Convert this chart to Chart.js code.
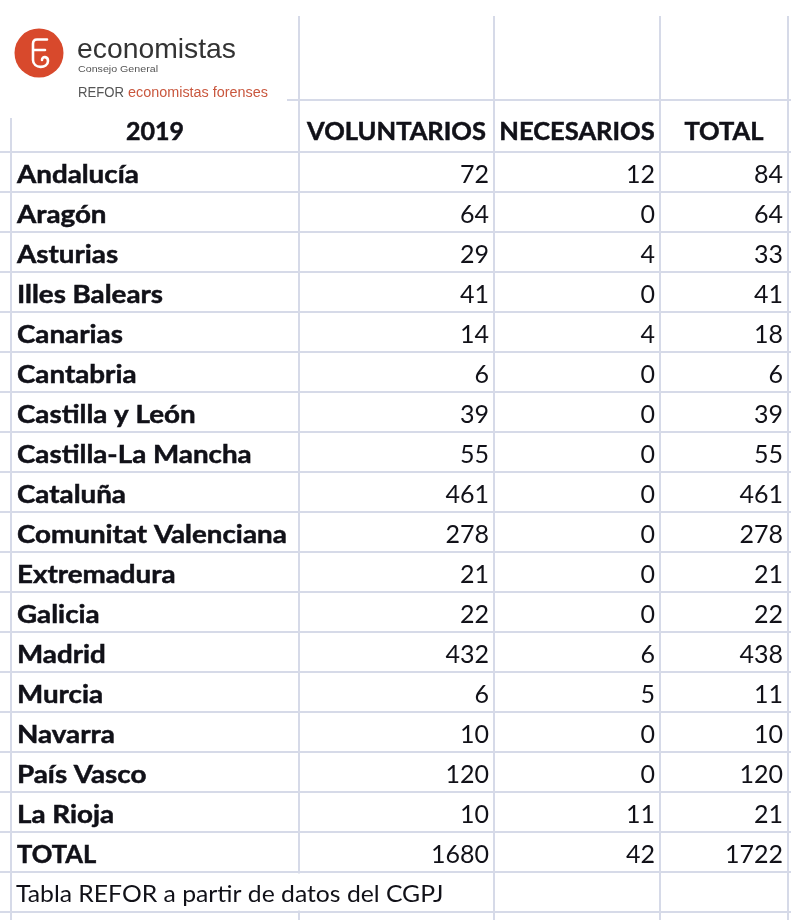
<!DOCTYPE html>
<html lang="es">
<head>
<meta charset="utf-8">
<title>Concursos 2019 - REFOR</title>
<script src="https://cdn.jsdelivr.net/npm/chart.js@4.4.1/dist/chart.umd.min.js"></script>
<style>
  html, body { margin: 0; padding: 0; background: #fff; }
  #wrap { width: 791px; height: 920px; }
</style>
</head>
<body>
<div id="wrap"><canvas id="tabla" width="791" height="920"></canvas></div>
<script>
// Datos de la tabla
const yearLabel = '2019';
const columnLabels = ['VOLUNTARIOS', 'NECESARIOS', 'TOTAL'];
const regions = ['Andalucía', 'Aragón', 'Asturias', 'Illes Balears', 'Canarias', 'Cantabria',
    'Castilla y León', 'Castilla-La Mancha', 'Cataluña', 'Comunitat Valenciana', 'Extremadura',
    'Galicia', 'Madrid', 'Murcia', 'Navarra', 'País Vasco', 'La Rioja'];
const voluntarios = [72, 64, 29, 41, 14, 6, 39, 55, 461, 278, 21, 22, 432, 6, 10, 120, 10];
const necesarios = [12, 0, 4, 0, 4, 0, 0, 0, 0, 0, 0, 0, 6, 5, 0, 0, 11];
const totales = [84, 64, 33, 41, 18, 6, 39, 55, 461, 278, 21, 22, 438, 11, 10, 120, 21];
const totalLabel = 'TOTAL';
const totalRow = [1680, 42, 1722];
const sourceNote = 'Tabla REFOR a partir de datos del CGPJ';

// Maquetacion de la hoja
const colLeft = 11;
const colWidths = [288, 195, 166, 128];
const tableTop = 16;
const topRowHeights = [45, 39, 52];   // dos filas del logo + cabecera
const bodyRowHeight = 40;
const gridColor = '#d6dae8';
const textColor = '#111118';
const fontFamily = 'Lato, "Open Sans", sans-serif';

const colEdges = [colLeft];
colWidths.forEach(w => colEdges.push(colEdges[colEdges.length - 1] + w));

const rowEdges = [tableTop];
topRowHeights.forEach(h => rowEdges.push(rowEdges[rowEdges.length - 1] + h));
// filas de comunidades + TOTAL + nota + una fila mas (cortada)
for (let i = 0; i < regions.length + 3; i++) {
    rowEdges.push(rowEdges[rowEdges.length - 1] + bodyRowHeight);
}

// Texto con ancho ajustado (para el logo)
function fitText(ctx, text, x, y, width) {
    const w = ctx.measureText(text).width;
    ctx.save();
    ctx.translate(x, y);
    ctx.scale(width / w, 1);
    ctx.fillText(text, 0, 0);
    ctx.restore();
}

// Texto estirado en horizontal (la letra Calibri del original es mas ancha)
function stretchText(ctx, text, x, y, sx, bold) {
    ctx.save();
    ctx.translate(x, y);
    ctx.scale(sx, 1);
    ctx.fillText(text, 0, 0);
    if (bold) {
        ctx.lineWidth = 0.5;
        ctx.strokeStyle = ctx.fillStyle;
        ctx.strokeText(text, 0, 0);
    }
    ctx.restore();
}

function drawLogo(ctx) {
    // tapa la cuadricula bajo la imagen
    ctx.fillStyle = '#fff';
    ctx.fillRect(0, 0, 287, 118);

    ctx.fillStyle = '#d8492c';
    ctx.beginPath();
    ctx.arc(39, 53, 24.5, 0, Math.PI * 2);
    ctx.fill();

    ctx.strokeStyle = '#fff';
    ctx.lineWidth = 2.6;
    ctx.lineCap = 'round';
    ctx.beginPath();
    ctx.moveTo(47, 39.5);
    ctx.lineTo(37, 39.5);
    ctx.quadraticCurveTo(33, 39.5, 33, 44);
    ctx.lineTo(33, 60);
    ctx.bezierCurveTo(33, 69, 48, 69, 48, 61);
    ctx.bezierCurveTo(48, 56, 42, 56, 42, 60);
    ctx.moveTo(33, 50);
    ctx.lineTo(45, 50);
    ctx.stroke();

    ctx.textAlign = 'left';
    ctx.textBaseline = 'alphabetic';
    ctx.fillStyle = '#333';
    ctx.font = '28px "Liberation Sans", Arial, sans-serif';
    fitText(ctx, 'economistas', 77, 58, 159);
    ctx.fillStyle = '#555';
    ctx.font = '9px "Liberation Sans", Arial, sans-serif';
    fitText(ctx, 'Consejo General', 78, 72, 80);
    ctx.font = '14px "Liberation Sans", Arial, sans-serif';
    ctx.fillStyle = '#555';
    fitText(ctx, 'REFOR', 78, 97, 46);
    ctx.fillStyle = '#c9573e';
    fitText(ctx, 'economistas forenses', 128, 97, 140);
}

const tablePlugin = {
    id: 'tablaRefor',
    afterDraw(chart) {
        const ctx = chart.ctx;
        const x = chart.scales.x;
        const y = chart.scales.y;
        const px = v => x.getPixelForValue(v);
        const py = v => y.getPixelForValue(v);

        ctx.save();
        drawLogo(ctx);

        const headerRow = 2;
        const firstBody = 3;
        const totalIdx = firstBody + regions.length;
        const noteIdx = totalIdx + 1;

        // la nota desborda la primera celda y tapa la linea vertical
        ctx.fillStyle = '#fff';
        ctx.fillRect(px(colEdges[1]) - 2, py(rowEdges[noteIdx]) + 1.5, 4, bodyRowHeight - 3);

        ctx.fillStyle = textColor;
        ctx.textBaseline = 'alphabetic';

        // cabecera
        ctx.font = 'bold 25px ' + fontFamily;
        ctx.textAlign = 'center';
        const headBase = py(rowEdges[headerRow + 1]) - 12;
        stretchText(ctx, yearLabel, (px(colEdges[0]) + px(colEdges[1])) / 2, headBase, 1, true);
        columnLabels.forEach((lab, i) => {
            stretchText(ctx, lab, (px(colEdges[i + 1]) + px(colEdges[i + 2])) / 2, headBase, 1.02, true);
        });

        const drawRow = (rowIdx, label, values) => {
            const base = py(rowEdges[rowIdx + 1]) - 9;
            ctx.font = 'bold 25px ' + fontFamily;
            ctx.textAlign = 'left';
            const sx = label === label.toUpperCase() ? 1.02 : 1.11;
            stretchText(ctx, label, px(colEdges[0]) + 6, base, sx, true);
            ctx.font = '25px ' + fontFamily;
            ctx.textAlign = 'right';
            values.forEach((v, i) => {
                stretchText(ctx, String(v), px(colEdges[i + 2]) - 5, base, 1, false);
            });
        };

        regions.forEach((r, i) => {
            drawRow(firstBody + i, r, [voluntarios[i], necesarios[i], totales[i]]);
        });
        drawRow(totalIdx, totalLabel, totalRow);

        ctx.font = '24px ' + fontFamily;
        ctx.textAlign = 'left';
        stretchText(ctx, sourceNote, px(colEdges[0]) + 5, py(rowEdges[noteIdx + 1]) - 10, 1.03, false);
        ctx.restore();
    }
};

new Chart(document.getElementById('tabla').getContext('2d'), {
    type: 'scatter',
    data: { datasets: [] },
    options: {
        responsive: false,
        animation: false,
        events: [],
        layout: { padding: { top: tableTop, left: 0, right: 0, bottom: 0 } },
        plugins: { legend: { display: false }, tooltip: { enabled: false } },
        scales: {
            x: {
                type: 'linear',
                min: 0,
                max: 791,
                ticks: { display: false },
                border: { display: false },
                grid: { color: gridColor, lineWidth: 2, drawTicks: false },
                afterBuildTicks: s => { s.ticks = colEdges.map(v => ({ value: v })); },
                afterFit: s => { s.height = 0; }
            },
            y: {
                type: 'linear',
                reverse: true,
                min: tableTop,
                max: 920,
                ticks: { display: false },
                border: { display: false },
                grid: { color: gridColor, lineWidth: 2, drawTicks: false },
                afterBuildTicks: s => { s.ticks = rowEdges.slice(2).map(v => ({ value: v })); },
                afterFit: s => { s.width = 0; }
            }
        }
    },
    plugins: [tablePlugin]
});
</script>
</body>
</html>
